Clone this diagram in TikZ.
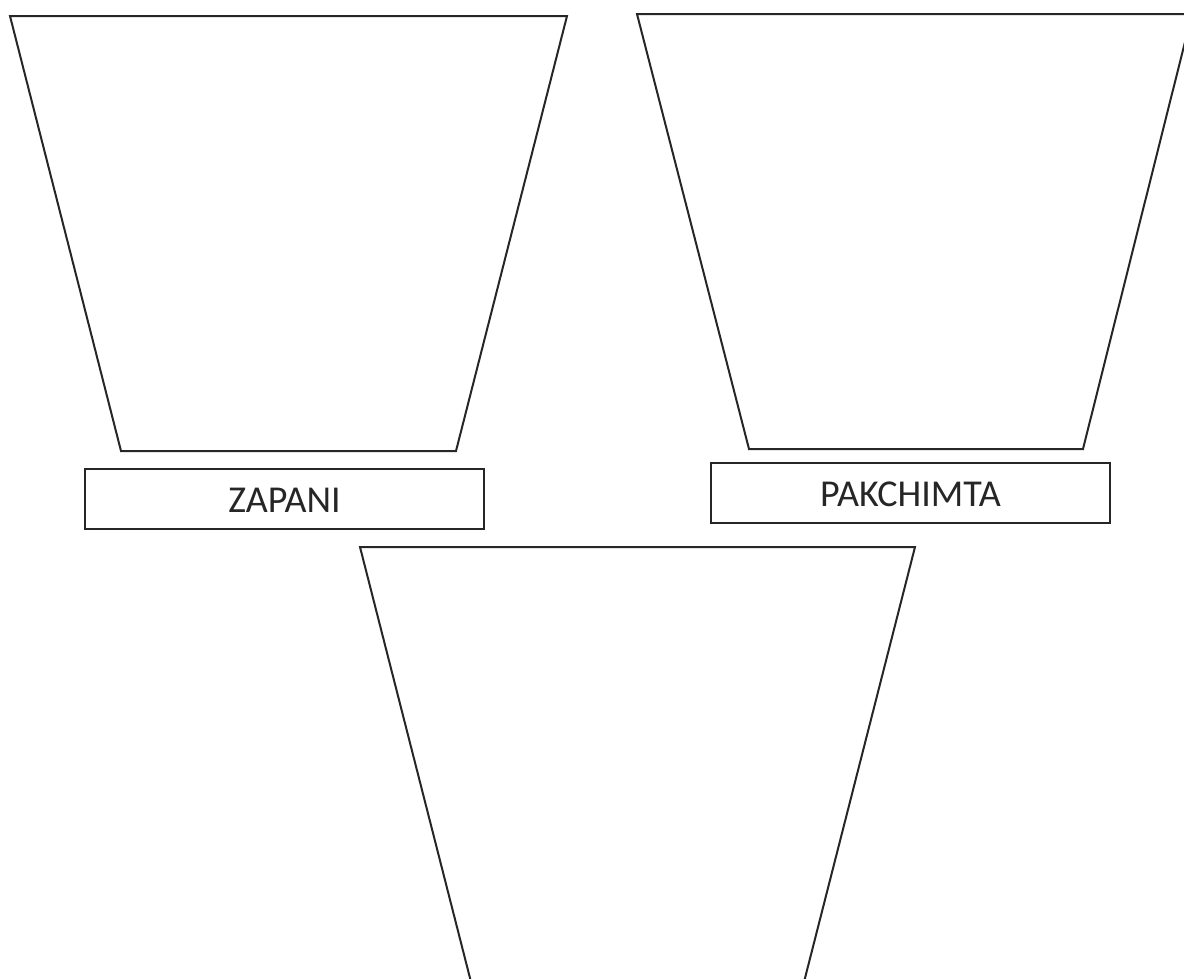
\documentclass[tikz,border=0pt]{standalone}
\usepackage{fontspec}
\setmainfont{Carlito}
\begin{document}
\begin{tikzpicture}[x=1pt,y=-1pt,
  edge/.style={draw=black!85,line width=2pt,line join=miter},
  labelbox/.style={draw=black!85,line width=2pt,minimum width=399pt,minimum height=60pt,inner sep=0pt,font=\fontsize{38}{42}\selectfont,text=black!85,text height=27pt,text depth=0pt}]
\useasboundingbox (0,0) rectangle (1184,978);
\clip (0,0) rectangle (1184,978);
% trapezoid 1
\draw[edge] (10,16) -- (567,16) -- (456,451) -- (121,451) -- cycle;
% trapezoid 2
\draw[edge] (637,14) -- (1192,14) -- (1083,449) -- (749,449) -- cycle;
% trapezoid 3
\draw[edge] (360,547) -- (915,547) -- (804,982) -- (471,982) -- cycle;
% labels
\node[labelbox] (zapani) at (284.5,499) {ZAPANI};
\node[labelbox] (pakchimta) at (910.5,492.5) {PAKCHIMTA};
\end{tikzpicture}
\end{document}
